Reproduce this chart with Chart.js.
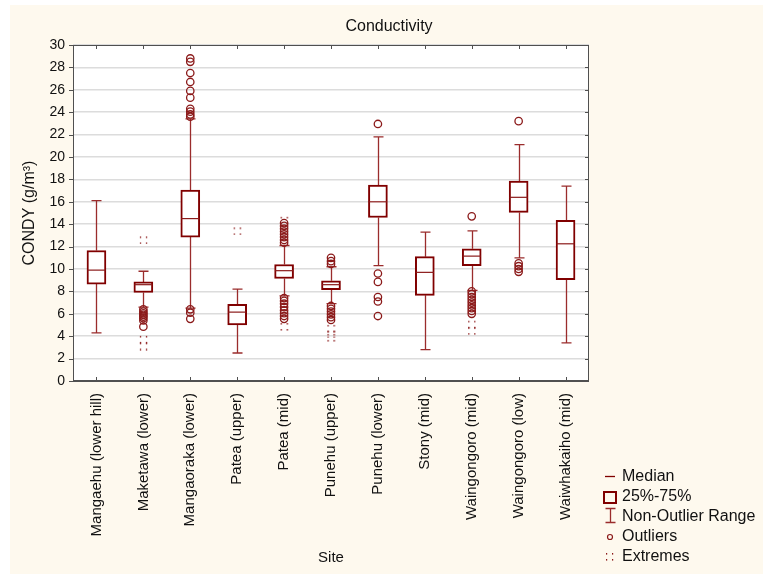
<!DOCTYPE html>
<html>
<head>
<meta charset="utf-8">
<script src="https://cdn.jsdelivr.net/npm/chart.js@4.4.0/dist/chart.umd.min.js"></script>
<style>
  html, body { margin: 0; padding: 0; background: #fff; }
  canvas { display: block; }
</style>
</head>
<body>
<canvas id="chart" width="763" height="574"></canvas>
<script>
// Conductivity box plot, per site
const categories = [
  'Mangaehu (lower hill)', 'Maketawa (lower)', 'Mangaoraka (lower)', 'Patea (upper)',
  'Patea (mid)', 'Punehu (upper)', 'Punehu (lower)', 'Stony (mid)',
  'Waingongoro (mid)', 'Waingongoro (low)', 'Waiwhakaiho (mid)'
];

const whiskerLow  = [4.3, 6.6, 6.5, 2.5, 7.6, 6.9, 10.3, 2.8, 8.1, 11.0, 3.4];
const q1          = [8.65, 7.9, 12.85, 5.0, 9.15, 8.15, 14.6, 7.65, 10.3, 15.05, 9.05];
const medians     = [9.9, 8.6, 14.5, 6.15, 9.85, 8.6, 16.0, 9.7, 11.15, 16.4, 12.25];
const q3          = [11.65, 8.85, 17.05, 6.85, 10.4, 8.95, 17.5, 11.1, 11.8, 17.85, 14.35];
const whiskerHigh = [16.1, 9.8, 23.4, 8.2, 12.1, 10.2, 21.8, 13.3, 13.4, 21.1, 17.4];

const outliers = [
  [],
  [6.4, 6.2, 6.05, 5.9, 5.75, 5.6, 5.4, 4.85],
  [28.8, 28.5, 27.5, 26.7, 25.9, 25.3, 24.3, 24.05, 23.8, 23.6, 6.4, 6.1, 5.55],
  [],
  [14.1, 13.85, 13.6, 13.35, 13.1, 12.85, 12.6, 12.35, 7.4, 7.15, 6.9, 6.6, 6.3, 6.05, 5.8, 5.55],
  [11.0, 10.7, 10.45, 6.7, 6.45, 6.2, 5.95, 5.7, 5.45],
  [22.95, 9.6, 8.85, 7.5, 7.1, 5.8],
  [],
  [14.7, 8.0, 7.75, 7.5, 7.25, 7.0, 6.75, 6.5, 6.25, 6.0],
  [23.2, 10.5, 10.25, 10.0, 9.75],
  []
];

const extremes = [
  [],
  [12.6, 3.72, 3.12],
  [],
  [13.4],
  [14.35, 4.87],
  [4.7, 4.2, 3.9],
  [],
  [],
  [5.07, 4.5],
  [],
  []
];

const yTicks = { min: 0, max: 30, step: 2 };

const RED = '#800000';
const WHISKER = '#9a2c2c';
const FONT = '"Liberation Sans", Arial, sans-serif';

// small "::" marker for extremes
function extremeMarker() {
  const c = document.createElement('canvas');
  c.width = 9; c.height = 9;
  const g = c.getContext('2d');
  g.fillStyle = '#8b1a1a';
  [[1, 1], [7, 1], [1, 7], [7, 7]].forEach(([x, y]) => g.fillRect(x, y, 1.2, 1.6));
  return c;
}
const extremeImg = extremeMarker();

const outlierPts = [];
outliers.forEach((arr, i) => arr.forEach(v => outlierPts.push({ x: categories[i], y: v })));
const extremePts = [];
extremes.forEach((arr, i) => arr.forEach(v => extremePts.push({ x: categories[i], y: v })));

const boxExtras = {
  id: 'boxExtras',
  beforeDraw(chart) {
    const { ctx, chartArea: a } = chart;
    ctx.save();
    ctx.fillStyle = '#fef9ee';
    ctx.fillRect(10, 5, chart.width - 10, chart.height - 5);
    ctx.fillStyle = '#ffffff';
    ctx.fillRect(a.left, a.top, a.right - a.left, a.bottom - a.top);
    ctx.restore();
  },
  beforeDatasetsDraw(chart) {
    const { ctx } = chart;
    const xs = chart.scales.x, ys = chart.scales.y;
    ctx.save();
    ctx.strokeStyle = WHISKER;
    ctx.lineWidth = 1.3;
    categories.forEach((c, i) => {
      const x = Math.round(xs.getPixelForValue(i)) + 0.5;
      const yLo = ys.getPixelForValue(whiskerLow[i]);
      const yHi = ys.getPixelForValue(whiskerHigh[i]);
      const yQ1 = ys.getPixelForValue(q1[i]);
      const yQ3 = ys.getPixelForValue(q3[i]);
      ctx.beginPath();
      ctx.moveTo(x, yLo); ctx.lineTo(x, yQ1);
      ctx.moveTo(x, yQ3); ctx.lineTo(x, yHi);
      ctx.moveTo(x - 5, yLo); ctx.lineTo(x + 5, yLo);
      ctx.moveTo(x - 5, yHi); ctx.lineTo(x + 5, yHi);
      ctx.stroke();
    });
    ctx.restore();
  },
  afterDatasetsDraw(chart) {
    const { ctx, chartArea: a } = chart;
    const xs = chart.scales.x, ys = chart.scales.y;
    ctx.save();

    // medians
    ctx.strokeStyle = '#8b1a1a';
    ctx.lineWidth = 1.2;
    categories.forEach((c, i) => {
      const x = xs.getPixelForValue(i);
      const y = ys.getPixelForValue(medians[i]);
      ctx.beginPath();
      ctx.moveTo(x - 9, y); ctx.lineTo(x + 9, y);
      ctx.stroke();
    });

    // frame + ticks
    ctx.strokeStyle = '#505050';
    ctx.lineWidth = 1;
    ctx.strokeRect(a.left + 0.5, a.top + 0.5, a.right - a.left - 1, a.bottom - a.top - 1);
    ctx.lineWidth = 2;
    ctx.beginPath();
    ctx.moveTo(a.left, a.bottom); ctx.lineTo(a.right, a.bottom);
    ctx.stroke();
    ctx.lineWidth = 1;
    ctx.beginPath();
    categories.forEach((c, i) => {
      const x = Math.round(xs.getPixelForValue(i)) + 0.5;
      ctx.moveTo(x, a.top); ctx.lineTo(x, a.top + 4);
      ctx.moveTo(x, a.bottom); ctx.lineTo(x, a.bottom - 4);
    });
    ys.ticks.forEach(t => {
      const y = Math.round(ys.getPixelForValue(t.value)) + 0.5;
      ctx.moveTo(a.left - 4, y); ctx.lineTo(a.left, y);
      ctx.moveTo(a.right - 4, y); ctx.lineTo(a.right, y);
    });
    ctx.stroke();

    // title
    ctx.fillStyle = '#111';
    ctx.font = '16px ' + FONT;
    ctx.textAlign = 'center';
    ctx.textBaseline = 'middle';
    ctx.fillText('Conductivity', 389, 27);

    // legend
    const lx = 610, tx = 622;
    ctx.strokeStyle = RED;
    ctx.lineWidth = 1.3;
    ctx.beginPath();
    ctx.moveTo(lx - 5, 476.5); ctx.lineTo(lx + 5, 476.5);
    ctx.stroke();
    ctx.lineWidth = 2;
    ctx.strokeRect(lx - 6, 492, 12, 11);
    ctx.strokeStyle = WHISKER;
    ctx.lineWidth = 1.3;
    ctx.beginPath();
    ctx.moveTo(lx + 0.5, 508); ctx.lineTo(lx + 0.5, 523);
    ctx.moveTo(lx - 4.5, 508.5); ctx.lineTo(lx + 5.5, 508.5);
    ctx.moveTo(lx - 4.5, 522.5); ctx.lineTo(lx + 5.5, 522.5);
    ctx.stroke();
    ctx.strokeStyle = '#8b1a1a';
    ctx.lineWidth = 1.2;
    ctx.beginPath();
    ctx.arc(lx, 537, 2.5, 0, Math.PI * 2);
    ctx.stroke();
    ctx.drawImage(extremeImg, lx - 5, 552);

    ctx.fillStyle = '#111';
    ctx.font = '16px ' + FONT;
    ctx.textAlign = 'left';
    [['Median', 477], ['25%-75%', 497], ['Non-Outlier Range', 517], ['Outliers', 537], ['Extremes', 557]]
      .forEach(([t, y]) => ctx.fillText(t, tx, y));

    ctx.restore();
  }
};

new Chart(document.getElementById('chart'), {
  type: 'bar',
  data: {
    labels: categories,
    datasets: [
      {
        type: 'bar',
        data: categories.map((c, i) => [q1[i], q3[i]]),
        backgroundColor: '#ffffff',
        borderColor: RED,
        borderWidth: 2,
        borderSkipped: false,
        barThickness: 19,
        order: 2
      },
      {
        type: 'line',
        data: outlierPts,
        showLine: false,
        pointStyle: 'circle',
        pointRadius: 3.7,
        pointHoverRadius: 3.7,
        pointBorderWidth: 1.3,
        pointBorderColor: '#8b1a1a',
        pointBackgroundColor: 'rgba(0,0,0,0)',
        order: 1
      },
      {
        type: 'line',
        data: extremePts,
        showLine: false,
        pointStyle: extremeImg,
        pointRadius: 4,
        order: 0
      }
    ]
  },
  options: {
    responsive: false,
    animation: false,
    layout: { padding: { left: 10, right: 174, top: 45, bottom: 0 } },
    plugins: {
      legend: { display: false },
      title: { display: false },
      tooltip: { enabled: false }
    },
    scales: {
      x: {
        type: 'category',
        grid: { display: false, drawTicks: false },
        border: { display: false },
        ticks: {
          minRotation: 90,
          maxRotation: 90,
          padding: 12,
          color: '#111',
          font: { size: 15, family: FONT }
        },
        title: {
          display: true,
          text: 'Site',
          color: '#111',
          font: { size: 15, family: FONT },
          padding: { top: 0, bottom: 7 }
        },
        afterFit: s => { s.height = 193; }
      },
      y: {
        min: yTicks.min,
        max: yTicks.max,
        grid: { color: '#dcdcdc', lineWidth: 1.5, drawTicks: false },
        border: { display: false },
        ticks: {
          stepSize: yTicks.step,
          padding: 8,
          color: '#111',
          font: { size: 14, family: FONT }
        },
        title: {
          display: true,
          text: 'CONDY (g/m³)',
          color: '#111',
          font: { size: 16, family: FONT },
          padding: { top: 10, bottom: 0 }
        },
        afterFit: s => { s.width = 63; }
      }
    }
  },
  plugins: [boxExtras]
});
</script>
</body>
</html>
